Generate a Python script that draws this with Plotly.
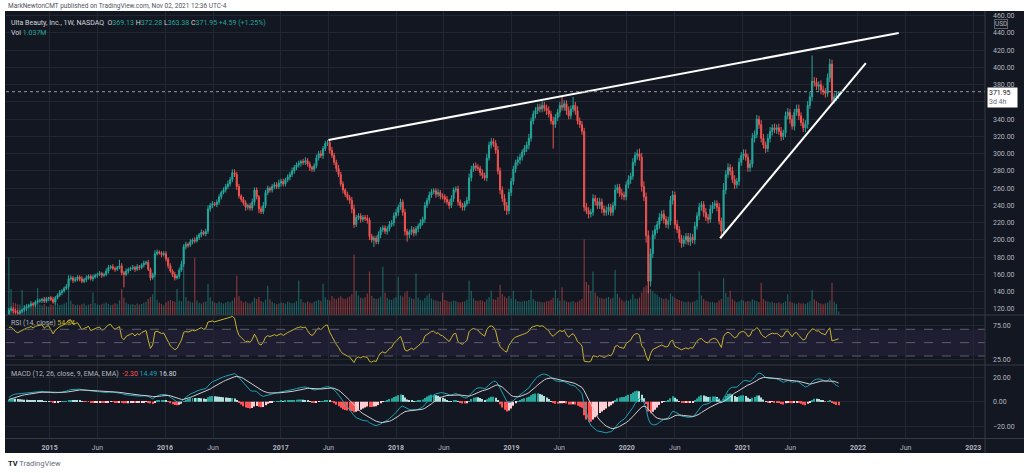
import numpy as np
import pandas as pd
import plotly.graph_objects as go

# ── ULTA weekly bars (1W, Monday dated) ───────────────────────────────────────
first_week = "2014-08-25"

# closes before the visible window, only used to warm up RSI / MACD
warmup_closes = [92, 90, 88, 85, 83, 86, 90, 94, 96, 95, 92, 90, 88, 91, 93, 95,
                 96, 94, 93, 95, 97, 96, 98, 100, 99, 98]

closes = [
    # 2014
    119, 120, 118, 116, 115, 117, 119, 121, 123, 124, 126, 125, 128, 129, 130, 131, 129, 132, 133,
    # 2015
    131, 128, 133, 136, 139, 141, 144, 146, 155, 156, 153, 154, 157, 155, 152, 154, 156, 158, 155, 157, 159,
    160, 161, 159, 160, 164, 168, 169, 167, 166, 168, 170, 162, 160, 164, 166, 167, 168, 166, 169, 168,
    171, 173, 174, 166, 156, 160, 184, 186, 185, 183, 184,
    # 2016
    178, 170, 164, 160, 156, 158, 165, 172, 192, 195, 194, 198, 200, 199, 203, 206, 209, 207, 210, 236,
    240, 242, 241, 244, 250, 255, 258, 262, 265, 270, 278, 276, 262, 251, 247, 243, 238, 240, 237, 244,
    258, 250, 236, 233, 240, 255, 260, 258, 262, 264, 262, 266,
    # 2017
    268, 265, 270, 273, 276, 280, 284, 287, 289, 291, 290, 292, 288, 284, 282, 286, 295, 300, 298, 306,
    312, 313, 304, 298, 290, 283, 276, 265, 258, 253, 249, 246, 236, 218, 226, 228, 224, 226, 225, 223,
    204, 200, 202, 198, 206, 212, 214, 210, 213, 218, 220, 228,
    # 2018
    232, 238, 244, 232, 210, 206, 209, 212, 208, 213, 216, 220, 224, 240, 246, 252, 256, 257, 253, 255,
    251, 250, 247, 244, 240, 248, 258, 259, 244, 240, 238, 242, 246, 272, 282, 286, 284, 283, 278, 275,
    272, 295, 310, 314, 312, 304, 280, 258, 248, 240, 234, 255, 268,
    # 2019
    282, 290, 293, 296, 302, 306, 310, 318, 338, 346, 350, 354, 352, 356, 353, 350, 346, 338, 334, 342,
    348, 356, 354, 358, 350, 344, 352, 356, 350, 338, 334, 326, 238, 234, 230, 232, 248, 245, 240, 244,
    236, 232, 234, 238, 232, 240, 258, 261, 254, 252, 250, 264,
    # 2020
    270, 274, 290, 298, 300, 296, 262, 250, 205, 152, 184, 206, 212, 218, 226, 230, 224, 218, 222, 246,
    252, 218, 212, 202, 196, 200, 204, 198, 203, 200, 216, 228, 238, 241, 232, 226, 224, 236, 240, 242,
    238, 222, 210, 258, 276, 284, 280, 270, 264, 268, 290, 298,
    # 2021
    300, 296, 284, 288, 318, 322, 340, 334, 318, 310, 306, 318, 326, 330, 328, 330, 326, 320, 324, 344,
    348, 340, 332, 348, 352, 344, 336, 330, 334, 356, 366, 384, 383, 378, 380, 374, 372, 370, 388, 404,
    362, 366, 367.36, 371.95,
]

# wick lengths above / below each candle body ($)
hi_wick = [
    2, 3, 2, 2, 3, 2, 1, 3, 2, 2, 3, 2, 2, 3, 2, 2, 3, 2, 1, 2,
    3, 2, 2, 3, 2, 2, 3, 4, 3, 2, 3, 2, 2, 3, 2, 3, 2, 2, 3, 2,
    2, 3, 2, 2, 3, 3, 2, 3, 2, 2, 7, 3, 2, 3, 2, 2, 3, 2, 3, 2,
    2, 3, 2, 3, 2, 2, 4, 3, 2, 2, 3, 3, 2, 3, 2, 3, 2, 3, 4, 3,
    3, 2, 3, 2, 3, 3, 2, 3, 2, 3, 4, 3, 3, 2, 3, 3, 2, 3, 3, 4,
    3, 4, 4, 3, 3, 2, 3, 3, 2, 3, 4, 3, 3, 2, 3, 4, 3, 3, 2, 3,
    3, 3, 4, 3, 3, 2, 3, 3, 4, 3, 3, 3, 2, 3, 4, 3, 3, 2, 3, 4,
    3, 4, 3, 3, 3, 3, 4, 3, 3, 4, 3, 3, 2, 3, 3, 4, 5, 3, 3, 3,
    3, 3, 4, 3, 3, 3, 3, 4, 3, 3, 3, 3, 4, 3, 4, 4, 3, 4, 3, 4,
    3, 3, 4, 3, 3, 3, 4, 3, 4, 3, 4, 3, 3, 3, 4, 3, 3, 3, 4, 3,
    4, 3, 3, 4, 3, 3, 3, 4, 5, 4, 3, 4, 4, 3, 4, 3, 5, 4, 4, 4,
    4, 5, 4, 4, 5, 4, 4, 4, 4, 3, 4, 4, 3, 4, 4, 5, 4, 4, 4, 4,
    4, 5, 4, 4, 5, 4, 5, 4, 4, 4, 10, 4, 4, 5, 4, 10, 4, 5, 4, 4,
    4, 5, 4, 4, 5, 4, 4, 5, 4, 4, 5, 4, 4, 4, 6, 4, 4, 5, 4, 4,
    5, 4, 5, 4, 5, 6, 5, 6, 5, 6, 6, 5, 5, 4, 5, 4, 5, 4, 5, 5,
    5, 4, 5, 4, 4, 5, 4, 4, 5, 4, 5, 4, 5, 4, 4, 5, 4, 5, 4, 4,
    4, 5, 4, 8, 5, 5, 4, 5, 5, 4, 5, 4, 5, 5, 4, 5, 6, 5, 5, 4,
    5, 5, 4, 5, 5, 4, 5, 4, 5, 5, 4, 5, 5, 4, 5, 4, 5, 5, 4, 5,
    5, 5, 6, 30, 5, 5, 4, 5, 5, 4, 5, 6, 5, 4, 4, 0,
]
lo_wick = [
    2, 2, 3, 2, 2, 3, 2, 2, 3, 2, 2, 2, 3, 2, 2, 3, 2, 2, 3, 2,
    2, 3, 2, 2, 3, 2, 2, 3, 2, 3, 2, 2, 3, 2, 2, 3, 2, 2, 3, 2,
    3, 2, 3, 2, 2, 3, 2, 2, 3, 2, 2, 3, 15, 2, 3, 2, 2, 3, 2, 3,
    2, 3, 2, 2, 3, 2, 3, 2, 2, 3, 2, 3, 3, 2, 3, 3, 2, 3, 2, 3,
    3, 3, 2, 3, 3, 2, 3, 3, 2, 3, 3, 3, 3, 2, 3, 3, 3, 2, 3, 3,
    3, 3, 3, 4, 3, 3, 3, 4, 3, 3, 3, 4, 3, 5, 3, 3, 3, 3, 3, 3,
    3, 3, 3, 4, 3, 3, 3, 4, 3, 3, 3, 3, 4, 3, 3, 3, 4, 3, 3, 3,
    3, 3, 4, 3, 3, 4, 3, 3, 4, 3, 3, 4, 3, 3, 4, 5, 4, 3, 3, 4,
    3, 3, 4, 4, 3, 8, 3, 3, 4, 3, 3, 4, 3, 3, 4, 3, 4, 3, 4, 5,
    8, 4, 3, 4, 3, 4, 3, 3, 4, 3, 4, 3, 3, 4, 3, 4, 3, 4, 3, 4,
    3, 4, 3, 4, 3, 4, 4, 3, 4, 4, 3, 4, 3, 4, 4, 3, 4, 3, 4, 4,
    4, 4, 5, 4, 6, 5, 4, 4, 4, 4, 4, 5, 4, 4, 4, 5, 4, 4, 5, 4,
    4, 4, 4, 5, 4, 4, 28, 4, 4, 5, 4, 4, 5, 4, 4, 4, 5, 4, 4, 4,
    5, 4, 5, 4, 4, 5, 4, 4, 5, 4, 4, 5, 4, 4, 5, 4, 4, 5, 4, 4,
    4, 5, 4, 4, 5, 4, 6, 5, 8, 14, 6, 5, 5, 4, 5, 4, 5, 4, 5, 5,
    5, 5, 4, 5, 5, 4, 5, 4, 5, 4, 5, 4, 5, 4, 5, 4, 5, 4, 5, 4,
    5, 4, 5, 4, 5, 4, 5, 4, 5, 4, 5, 4, 5, 4, 5, 5, 4, 5, 4, 5,
    5, 4, 5, 4, 5, 5, 4, 5, 4, 5, 4, 5, 4, 5, 4, 5, 4, 5, 4, 5,
    5, 5, 4, 5, 5, 4, 5, 5, 4, 5, 4, 5, 3, 4, 5, 0,
]

# weekly volume, millions of shares
volume_m = [
    16.5, 7.5, 3.6, 3.4, 3.1, 3.0, 7.2, 2.9, 3.2, 2.8, 3.1, 3.3, 2.9, 7.8, 3.0, 2.7, 3.2, 2.6, 2.4, 3.0,
    2.8, 3.1, 3.4, 2.9, 3.0, 3.3, 3.6, 7.5, 4.1, 3.2, 2.9, 3.0, 2.8, 3.1, 3.3, 2.7, 3.0, 3.2, 6.5, 3.4,
    3.0, 2.9, 3.1, 3.3, 3.6, 3.2, 2.9, 3.0, 3.4, 3.1, 4.2, 7.5, 5.0, 3.6, 3.2, 3.0, 3.1, 2.9, 3.3, 3.0,
    3.2, 3.5, 3.8, 4.6, 5.2, 6.0, 12.8, 4.4, 3.6, 3.2, 2.8, 3.5, 4.0, 4.3, 4.1, 3.8, 7.5, 4.2, 4.0, 20.3,
    5.2, 4.1, 3.8, 3.6, 16.5, 4.2, 3.5, 3.3, 3.7, 3.9, 9.0, 5.1, 4.0, 3.6, 3.4, 3.8, 3.5, 3.3, 3.6, 3.9,
    3.7, 4.2, 5.0, 11.3, 5.4, 4.1, 3.6, 3.9, 3.5, 3.3, 3.8, 5.0, 4.6, 5.2, 4.0, 3.7, 4.4, 8.4, 4.5, 3.8,
    3.4, 3.1, 3.3, 3.6, 3.5, 3.3, 3.8, 3.6, 3.4, 3.5, 4.0, 9.9, 4.6, 3.7, 3.5, 3.9, 3.6, 3.4, 3.8, 4.1,
    4.4, 4.0, 9.0, 5.1, 4.4, 4.2, 5.5, 4.8, 4.5, 5.0, 5.4, 4.8, 4.6, 5.0, 5.3, 6.0, 17.4, 7.0, 5.6, 5.0,
    4.8, 5.1, 6.2, 12.5, 5.5, 4.9, 4.6, 4.8, 5.3, 13.9, 6.4, 5.0, 4.5, 4.3, 4.8, 5.2, 11.0, 5.6, 5.3, 6.4,
    6.8, 5.1, 4.8, 4.6, 11.9, 5.0, 4.4, 4.2, 4.9, 5.6, 6.2, 4.8, 4.4, 4.2, 4.0, 3.9, 6.5, 4.3, 4.1, 3.8,
    3.9, 4.2, 4.0, 3.7, 3.6, 3.8, 3.9, 4.4, 9.9, 7.0, 4.8, 4.2, 4.0, 4.3, 4.1, 3.8, 4.5, 5.1, 7.0, 4.6,
    4.4, 5.2, 8.7, 6.0, 5.3, 4.9, 5.5, 4.7, 7.0, 4.5, 4.0, 3.8, 3.9, 4.1, 4.0, 4.3, 7.2, 4.6, 4.1, 3.9,
    3.8, 3.7, 3.6, 3.9, 4.0, 4.4, 5.0, 7.2, 4.8, 4.1, 8.0, 4.2, 3.9, 3.7, 3.8, 4.0, 3.6, 3.8, 4.2, 4.6,
    21.7, 9.5, 8.7, 7.0, 12.5, 6.5, 5.4, 5.0, 4.8, 4.6, 4.9, 5.2, 4.7, 5.0, 13.0, 6.1, 5.0, 4.4, 3.9, 4.2,
    4.1, 4.5, 6.0, 4.7, 4.6, 5.0, 6.5, 8.0, 8.5, 9.5, 7.5, 6.8, 6.2, 5.8, 5.2, 4.9, 4.6, 4.8, 4.4, 6.2,
    5.4, 5.0, 4.6, 4.3, 4.0, 3.8, 3.7, 3.9, 3.6, 3.8, 4.0, 4.4, 12.5, 5.6, 4.5, 4.1, 3.9, 3.7, 3.8, 3.5,
    3.6, 4.2, 4.6, 10.7, 6.3, 5.2, 7.0, 4.6, 4.1, 3.7, 3.9, 4.4, 4.2, 3.8, 4.0, 3.9, 4.5, 4.2, 4.0, 3.7,
    9.3, 4.6, 4.1, 3.9, 3.6, 3.8, 3.5, 3.4, 3.7, 3.3, 3.5, 4.0, 6.0, 3.9, 3.6, 3.4, 3.2, 3.5, 3.3, 3.4,
    3.2, 3.6, 4.0, 7.2, 4.5, 4.0, 3.5, 3.3, 3.1, 3.4, 3.6, 4.2, 9.3, 3.8, 3.2, 1.037,
]

# last (current) bar from the legend
last_open, last_high, last_low, last_close = 369.13, 372.28, 363.38, 371.95

# hand-drawn trend lines
trend_upper_x = ["2017-06-01", "2022-05-10"]
trend_upper_y = [316, 440]
trend_lower_x = ["2020-10-22", "2022-01-26"]
trend_lower_y = [202, 405]

# time axis labels
tick_dates = ["2015-01-01", "2015-06-01", "2016-01-01", "2016-06-01", "2017-01-01", "2017-06-01",
              "2018-01-01", "2018-06-01", "2019-01-01", "2019-06-01", "2020-01-01", "2020-06-01",
              "2021-01-01", "2021-06-01", "2022-01-01", "2022-06-01", "2023-01-01"]
tick_labels = ["2015", "Jun", "2016", "Jun", "2017", "Jun", "2018", "Jun", "2019", "Jun",
               "2020", "Jun", "2021", "Jun", "2022", "Jun", "2023"]
price_ticks = list(range(120, 461, 20))
# the 360 label sits under the last-price tag on the original, so it shows no text
price_tick_text = ["" if v == 360 else f"{v:.2f}" for v in price_ticks]

assert len(closes) == len(hi_wick) == len(lo_wick) == len(volume_m), \
    (len(closes), len(hi_wick), len(lo_wick), len(volume_m))

# ── build OHLC ────────────────────────────────────────────────────────────────
dates = pd.date_range(first_week, periods=len(closes), freq="7D")
opens = [warmup_closes[-1]] + closes[:-1]
opens[-1] = last_open
highs = [max(o, c) + w for o, c, w in zip(opens, closes, hi_wick)]
lows = [min(o, c) - w for o, c, w in zip(opens, closes, lo_wick)]
highs[-1], lows[-1] = last_high, last_low

# ── indicators ────────────────────────────────────────────────────────────────
full = pd.Series(warmup_closes + closes, dtype=float)
n_warm = len(warmup_closes)
delta = full.diff()
gain = delta.clip(lower=0).ewm(alpha=1 / 14, adjust=False).mean()
loss = (-delta.clip(upper=0)).ewm(alpha=1 / 14, adjust=False).mean()
rsi = (100 - 100 / (1 + gain / loss)).iloc[n_warm:].values

macd = full.ewm(span=12, adjust=False).mean() - full.ewm(span=26, adjust=False).mean()
signal = macd.ewm(span=9, adjust=False).mean()
hist_full = macd - signal
hist = hist_full.iloc[n_warm:].values
hist_prev = hist_full.shift(1).iloc[n_warm:].values
macd = macd.iloc[n_warm:].values
signal = signal.iloc[n_warm:].values

hist_colors = []
for h, p in zip(hist, hist_prev):
    if h >= 0:
        hist_colors.append("#26a69a" if h > p else "#b2dfdb")
    else:
        hist_colors.append("#ffcdd2" if h > p else "#ff5252")

# ── styling ───────────────────────────────────────────────────────────────────
BG = "#131722"
GRID = "#232732"
SEP = "#363a45"
TXT = "#b2b5be"
UP = "#26a69a"
DOWN = "#ef5350"
FONT = "Roboto, Liberation Sans, sans-serif"
W, H = 1024, 473


def px_x(px):
    return px / W


def px_y(px):
    return 1 - px / H


X_DOM = [px_x(6), px_x(985)]
PRICE_DOM = [px_y(315), px_y(11)]
RSI_DOM = [px_y(365), px_y(315)]
MACD_DOM = [px_y(438.5), px_y(365)]
WEEK_MS = 7 * 24 * 3600 * 1000

vol_colors = ["rgba(38,166,154,0.5)" if c >= o else "rgba(239,83,80,0.5)"
              for o, c in zip(opens, closes)]

fig = go.Figure()

# volume (base axis so it sits under the candles)
fig.add_trace(go.Bar(x=dates, y=volume_m, marker=dict(color=vol_colors, line=dict(width=0)),
                     width=WEEK_MS * 0.55, xaxis="x", yaxis="y"))

# candles
fig.add_trace(go.Candlestick(
    x=dates, open=opens, high=highs, low=lows, close=closes,
    increasing=dict(line=dict(color=UP, width=1), fillcolor=UP),
    decreasing=dict(line=dict(color=DOWN, width=1), fillcolor=DOWN),
    whiskerwidth=0, xaxis="x", yaxis="y2", hoverinfo="skip"))

# trend lines
for tx, ty in [(trend_upper_x, trend_upper_y), (trend_lower_x, trend_lower_y)]:
    fig.add_trace(go.Scatter(x=tx, y=ty, mode="lines", line=dict(color="#ffffff", width=2),
                             xaxis="x", yaxis="y2"))

# RSI
fig.add_trace(go.Scatter(x=dates, y=rsi, mode="lines", line=dict(color="#c8b42c", width=1),
                         xaxis="x", yaxis="y3"))

# MACD
fig.add_trace(go.Bar(x=dates, y=hist, marker=dict(color=hist_colors, line=dict(width=0)),
                     width=WEEK_MS * 0.45, xaxis="x", yaxis="y4"))
fig.add_trace(go.Scatter(x=dates, y=macd, mode="lines", line=dict(color="#1aa3b8", width=1),
                         xaxis="x", yaxis="y4"))
fig.add_trace(go.Scatter(x=dates, y=signal, mode="lines", line=dict(color="#cfcfcf", width=1),
                         xaxis="x", yaxis="y4"))

axis_font = dict(family=FONT, size=7, color=TXT)

fig.update_layout(
    width=W, height=H,
    margin=dict(l=0, r=0, t=0, b=0),
    paper_bgcolor="white", plot_bgcolor=BG,
    showlegend=False, barmode="overlay",
    font=dict(family=FONT, size=7, color=TXT),
    xaxis=dict(domain=X_DOM, anchor="y4", type="date", range=["2014-08-16", "2023-02-07"],
               tickmode="array", tickvals=tick_dates,
               ticktext=[f"<b>{t}</b>" if t.isdigit() else t for t in tick_labels],
               showgrid=True, gridcolor=GRID, gridwidth=1, zeroline=False, showline=False,
               ticks="", ticklabelstandoff=3, tickfont=axis_font,
               rangeslider=dict(visible=False)),
    yaxis=dict(domain=PRICE_DOM, anchor="x", range=[0, 87.5], visible=False,
               showgrid=False, zeroline=False),
    yaxis2=dict(overlaying="y", anchor="x", side="right", range=[113, 465.5],
                tickmode="array", tickvals=price_ticks, ticktext=price_tick_text,
                showgrid=True, gridcolor=GRID, zeroline=False, showline=False,
                ticks="", ticklabelstandoff=7, tickfont=axis_font),
    yaxis3=dict(domain=RSI_DOM, anchor="x", side="right", range=[16.5, 91.4],
                tickmode="array", tickvals=[25, 75], tickformat=".2f",
                showgrid=True, gridcolor=GRID, zeroline=False, showline=False,
                ticks="", ticklabelstandoff=7, tickfont=axis_font),
    yaxis4=dict(domain=MACD_DOM, anchor="x", side="right", range=[-30.2, 30.1],
                tickmode="array", tickvals=[-20, 0, 20], tickformat=".2f",
                showgrid=True, gridcolor=GRID, zeroline=False, showline=False,
                ticks="", ticklabelstandoff=7, tickfont=axis_font),
)

shapes = [
    # dark chart canvas
    dict(type="rect", xref="paper", yref="paper", x0=px_x(5), x1=1, y0=px_y(453), y1=px_y(11),
         fillcolor=BG, line=dict(width=0), layer="below"),
    # RSI band
    dict(type="rect", xref="x domain", yref="y3", x0=0, x1=1, y0=30, y1=70,
         fillcolor="rgba(126,87,194,0.1)", line=dict(width=0), layer="below"),
]
for lvl in (70, 50, 30):
    shapes.append(dict(type="line", xref="x domain", yref="y3", x0=0, x1=1, y0=lvl, y1=lvl,
                       line=dict(color="#5d606b", width=1, dash="dash")))
# last price dotted line
shapes.append(dict(type="line", xref="x domain", yref="y2", x0=0, x1=1, y0=last_close, y1=last_close,
                   line=dict(color="#9598a1", width=1, dash="dot")))
# panel separators
for ypx in (315, 365, 438.5):
    shapes.append(dict(type="line", xref="paper", yref="paper", x0=px_x(5), x1=1,
                       y0=px_y(ypx), y1=px_y(ypx), line=dict(color=SEP, width=1)))
shapes.append(dict(type="line", xref="paper", yref="paper", x0=px_x(985), x1=px_x(985),
                   y0=px_y(453), y1=px_y(11), line=dict(color=SEP, width=1)))
fig.update_layout(shapes=shapes)


def span(text, color):
    return f"<span style='color:{color}'>{text}</span>"


LBL = "#d1d4dc"
legend_main = (span("Ulta Beauty, Inc., 1W, NASDAQ", LBL) + "  "
               + span("O", LBL) + span(f"{last_open:.2f}", UP) + " "
               + span("H", LBL) + span(f"{last_high:.2f}", UP) + " "
               + span("L", LBL) + span(f"{last_low:.2f}", UP) + " "
               + span("C", LBL) + span(f"{last_close:.2f}", UP) + " "
               + span("+4.59 (+1.25%)", UP))

annotations = [
    dict(text="MarkNewtonCMT published on TradingView.com, Nov 02, 2021 12:36 UTC-4",
         x=px_x(6), y=px_y(5.5), font=dict(size=6.5, color="#50535e")),
    dict(text=legend_main, x=px_x(9), y=px_y(23), font=dict(size=7)),
    dict(text=span("Vol", LBL) + " " + span("1.037M", UP), x=px_x(9), y=px_y(33), font=dict(size=7)),
    dict(text=span("RSI (14, close)", TXT) + " " + span("54.84", "#c8b42c"),
         x=px_x(9), y=px_y(322.5), font=dict(size=7)),
    dict(text=span("MACD (12, 26, close, 9, EMA, EMA)", TXT) + "  " + span("-2.30", "#ff5252")
         + " " + span("14.49", "#1aa3b8") + " " + span("16.80", LBL),
         x=px_x(9), y=px_y(373.5), font=dict(size=7)),
    dict(text="<b>TV</b> " + span("TradingView", "#6a6d78"), x=px_x(6), y=px_y(463),
         font=dict(size=7.5, color="#131722")),
    dict(text="USD", x=px_x(994), y=px_y(24), font=dict(size=6.5, color=TXT),
         bordercolor="#5d606b", borderwidth=1, borderpad=0),
]
for a in annotations:
    a.update(xref="paper", yref="paper", xanchor="left", yanchor="middle", showarrow=False,
             align="left")
    a["font"] = dict(family=FONT, **a["font"])

# last price tag on the price axis
annotations.append(dict(
    text=f"{last_close:.2f}<br>" + span("3d 4h", "#6a6d78"),
    xref="paper", yref="y2", x=px_x(987), y=last_close, xanchor="left", yanchor="top", yshift=5,
    showarrow=False, align="left", bgcolor="#ffffff", borderpad=1, width=27,
    font=dict(family=FONT, size=7, color="#131722")))
fig.update_layout(annotations=annotations)

# page body margin would shift the 1024x473 figure off the window
fig.write_html("out.html", config={"displayModeBar": False},
               post_script="document.body.style.margin='0';")
